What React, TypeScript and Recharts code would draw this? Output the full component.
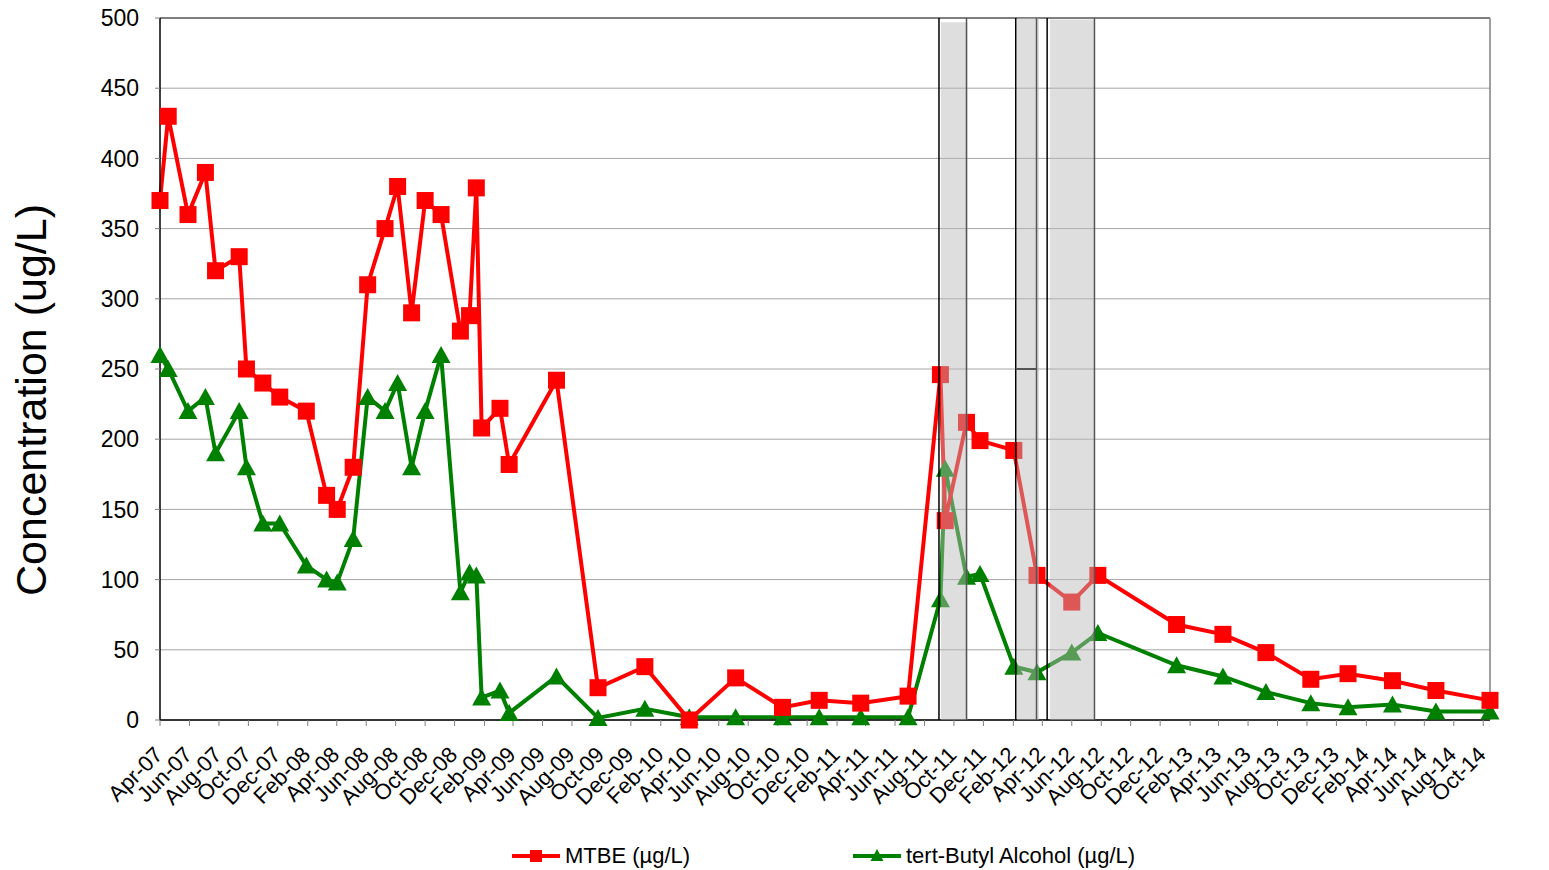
import React from 'react';
import {
  LineChart,
  Line,
  XAxis,
  YAxis,
  CartesianGrid,
  ReferenceArea,
  ReferenceLine,
} from 'recharts';

// ---------- data ----------
const sampleDates = [
  '2007-04-05', '2007-04-22', '2007-06-02', '2007-07-08', '2007-07-29',
  '2007-09-16', '2007-10-01', '2007-11-04', '2007-12-09', '2008-02-02',
  '2008-03-15', '2008-04-06', '2008-05-09', '2008-06-08', '2008-07-14',
  '2008-08-09', '2008-09-07', '2008-10-05', '2008-11-07', '2008-12-17',
  '2009-01-05', '2009-01-19', '2009-01-30', '2009-03-09', '2009-03-28',
  '2009-07-04', '2009-09-28', '2010-01-03', '2010-04-05', '2010-07-10',
  '2010-10-15', '2010-12-30', '2011-03-26', '2011-07-02', '2011-09-07',
  '2011-09-17', '2011-10-31', '2011-11-28', '2012-02-06', '2012-03-25',
  '2012-06-05', '2012-07-29', '2013-01-08', '2013-04-14', '2013-07-12',
  '2013-10-13', '2013-12-29', '2014-03-31', '2014-06-29', '2014-10-19',
];

const mtbeValues = [
  370, 430, 360, 390, 320, 330, 250, 240, 230, 220,
  160, 150, 180, 310, 350, 380, 290, 370, 360, 277,
  288, 379, 208, 222, 182, 242, 23, 38, 0, 30,
  9, 14, 12, 17, 246, 142, 212, 199, 192, 103,
  84, 103, 68, 61, 48, 29, 33, 28, 21, 14,
];

const tbaValues = [
  260, 250, 220, 230, 190, 220, 180, 140, 140, 110,
  100, 98, 129, 230, 220, 240, 180, 220, 260, 91,
  105, 103, 16, 21, 5, 31, 1.5, 8, 2, 2,
  2, 2, 2, 2, 86, 179, 102, 104, 38, 34,
  48, 62, 39, 31, 20, 12, 9, 11, 6, 6,
];

const tickLabels = [
  'Apr-07', 'Jun-07', 'Aug-07', 'Oct-07', 'Dec-07', 'Feb-08', 'Apr-08', 'Jun-08',
  'Aug-08', 'Oct-08', 'Dec-08', 'Feb-09', 'Apr-09', 'Jun-09', 'Aug-09', 'Oct-09',
  'Dec-09', 'Feb-10', 'Apr-10', 'Jun-10', 'Aug-10', 'Oct-10', 'Dec-10', 'Feb-11',
  'Apr-11', 'Jun-11', 'Aug-11', 'Oct-11', 'Dec-11', 'Feb-12', 'Apr-12', 'Jun-12',
  'Aug-12', 'Oct-12', 'Dec-12', 'Feb-13', 'Apr-13', 'Jun-13', 'Aug-13', 'Oct-13',
  'Dec-13', 'Feb-14', 'Apr-14', 'Jun-14', 'Aug-14', 'Oct-14',
];

const leftTicks = [0, 50, 100, 150, 200, 250, 300, 350, 400, 450, 500];
const rightTicks = [30, 32, 34, 36, 38, 40, 42, 44, 46, 48, 50];

// shaded periods
const bandStarts = ['2011-09-08', '2012-02-13', '2012-04-21'];
const bandEnds = ['2011-11-02', '2012-03-29', '2012-07-22'];
const bandTops = [497, 500, 499];
const blackMarkDates = ['2011-09-04', '2012-02-10', '2012-04-15'];
const greyMarkDates = ['2011-10-31', '2012-03-24', '2012-07-22'];
const segmentStart = '2012-02-10';
const segmentEnd = '2012-03-24';
const segmentValue = 250;

const domainStart = '2007-04-05';
const domainEnd = '2014-10-19';

// ---------- helpers ----------
const MONTHS: Record<string, number> = {
  Jan: 0, Feb: 1, Mar: 2, Apr: 3, May: 4, Jun: 5,
  Jul: 6, Aug: 7, Sep: 8, Oct: 9, Nov: 10, Dec: 11,
};
const MONTH_NAMES = Object.keys(MONTHS);
const toT = (s: string) => Date.parse(s);
const labelToT = (l: string) => {
  const [m, y] = l.split('-');
  return Date.UTC(2000 + Number(y), MONTHS[m], 5);
};
const tickValues = tickLabels.map(labelToT);
const fmt = (v: number) => {
  const d = new Date(v);
  const yy = String(d.getUTCFullYear() % 100).padStart(2, '0');
  return `${MONTH_NAMES[d.getUTCMonth()]}-${yy}`;
};

const data = sampleDates.map((d, i) => ({
  t: toT(d),
  mtbe: mtbeValues[i],
  tba: tbaValues[i],
}));

const FONT = "'Liberation Sans', Arial, Helvetica, sans-serif";
const RED = '#ff0000';
const GREEN = '#008000';

const SquareDot = (props: any) => {
  const { cx, cy, index } = props;
  if (cx == null || cy == null) return <g key={`s-${index}`} />;
  return <rect key={`s-${index}`} x={cx - 8.5} y={cy - 8.5} width={17} height={17} fill={RED} />;
};

const TriangleDot = (props: any) => {
  const { cx, cy, index } = props;
  if (cx == null || cy == null) return <g key={`t-${index}`} />;
  return (
    <polygon
      key={`t-${index}`}
      points={`${cx},${cy - 9} ${cx - 9.5},${cy + 8} ${cx + 9.5},${cy + 8}`}
      fill={GREEN}
    />
  );
};

const XTick = (props: any) => {
  const { x, y, payload } = props;
  const ax = x + 4;
  const ay = y + 28;
  return (
    <text
      x={ax}
      y={ay}
      transform={`rotate(-45, ${ax}, ${ay})`}
      textAnchor="end"
      fontSize={22}
      fontFamily={FONT}
      fill="#000"
    >
      {fmt(payload.value)}
    </text>
  );
};

const YLabel = () => (
  <text
    x={38}
    y={392}
    transform="rotate(-90, 38, 392)"
    textAnchor="middle"
    fontSize={43}
    fontFamily={FONT}
    fill="#000"
  >
    Concentration (ug/L)
  </text>
);

const W = 1541;
const H = 862;

export default function App() {
  return (
    <div style={{ position: 'relative', width: W, height: H, fontFamily: FONT, background: '#fff' }}>
      <LineChart
        width={W}
        height={H}
        data={data}
        margin={{ top: 10, right: 0, bottom: 0, left: 0 }}
      >
        <CartesianGrid yAxisId="left" vertical={false} stroke="#a6a6a6" strokeWidth={1} />
        <XAxis
          dataKey="t"
          type="number"
          domain={[toT(domainStart), toT(domainEnd)]}
          ticks={tickValues}
          interval={0}
          height={150}
          tick={<XTick />}
          tickSize={6}
          tickMargin={2}
          tickLine={{ stroke: '#808080' }}
          axisLine={{ stroke: '#000', strokeWidth: 1.5 }}
        />
        <YAxis
          yAxisId="left"
          domain={[0, 500]}
          ticks={leftTicks}
          interval={0}
          width={152}
          tickSize={5}
          tickMargin={16}
          tick={{ fontSize: 23, fill: '#000', fontFamily: FONT }}
          tickLine={{ stroke: '#808080' }}
          axisLine={{ stroke: '#000', strokeWidth: 1.5 }}
          label={{ position: 'insideLeft', content: () => <YLabel /> }}
        />
        <YAxis
          yAxisId="right"
          orientation="right"
          domain={[30, 50]}
          ticks={rightTicks}
          interval={0}
          width={59}
          tickSize={5}
          tickMargin={17}
          tick={{ fontSize: 23, fill: '#000', fontFamily: FONT, textAnchor: 'start' }}
          tickLine={{ stroke: '#808080' }}
          axisLine={{ stroke: '#808080', strokeWidth: 1.5 }}
        />
        <ReferenceLine yAxisId="left" y={500} stroke="#7f7f7f" strokeWidth={2} />
        <Line
          yAxisId="left"
          type="linear"
          dataKey="tba"
          name="tert-Butyl Alcohol (µg/L)"
          stroke={GREEN}
          strokeWidth={4}
          dot={TriangleDot}
          activeDot={false}
          isAnimationActive={false}
        />
        <Line
          yAxisId="left"
          type="linear"
          dataKey="mtbe"
          name="MTBE (µg/L)"
          stroke={RED}
          strokeWidth={4}
          dot={SquareDot}
          activeDot={false}
          isAnimationActive={false}
        />
        {bandStarts.map((s, i) => (
          <ReferenceArea
            key={`band-${i}`}
            yAxisId="left"
            x1={toT(s)}
            x2={toT(bandEnds[i])}
            y1={0}
            y2={bandTops[i]}
            fill="#b8b8b8"
            fillOpacity={0.47}
            stroke="none"
            zIndex={2000}
          />
        ))}
        {blackMarkDates.map((d, i) => (
          <ReferenceLine
            key={`bm-${i}`}
            yAxisId="left"
            x={toT(d)}
            stroke="#000"
            strokeWidth={1.5}
            zIndex={2100}
          />
        ))}
        {greyMarkDates.map((d, i) => (
          <ReferenceLine
            key={`gm-${i}`}
            yAxisId="left"
            x={toT(d)}
            stroke="#555"
            strokeWidth={1.5}
            zIndex={2100}
          />
        ))}
        <ReferenceLine
          yAxisId="left"
          segment={[
            { x: toT(segmentStart), y: segmentValue },
            { x: toT(segmentEnd), y: segmentValue },
          ]}
          stroke="#555"
          strokeWidth={2}
          zIndex={2100}
        />
      </LineChart>
      {/* Legend */}
      <div style={{ position: 'absolute', left: 504, top: 836, height: 24, display: 'flex', alignItems: 'center' }}>
        <svg width={50} height={24}>
          <line x1={0} y1={12} x2={48} y2={12} stroke={RED} strokeWidth={4} />
          <rect x={18} y={6} width={12} height={12} fill={RED} />
        </svg>
        <span style={{ fontSize: 22, marginLeft: 3, color: '#000' }}>MTBE (µg/L)</span>
      </div>
      <div style={{ position: 'absolute', left: 845, top: 836, height: 24, display: 'flex', alignItems: 'center' }}>
        <svg width={50} height={24}>
          <line x1={0} y1={12} x2={48} y2={12} stroke={GREEN} strokeWidth={4} />
          <polygon points="24,5 17.5,17 30.5,17" fill={GREEN} />
        </svg>
        <span style={{ fontSize: 22, marginLeft: 3, color: '#000' }}>tert-Butyl Alcohol (µg/L)</span>
      </div>
    </div>
  );
}
